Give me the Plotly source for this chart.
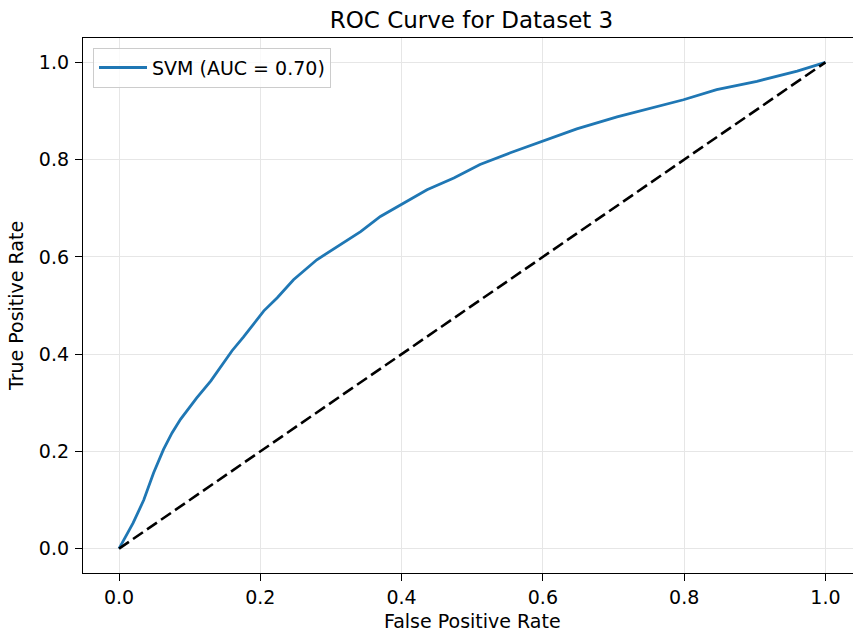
import plotly.graph_objects as go

# ROC curve values
fpr = [0.0, 0.020, 0.035, 0.049, 0.063, 0.075, 0.087, 0.101, 0.110, 0.130, 0.145,
       0.160, 0.176, 0.205, 0.224, 0.247, 0.280, 0.313, 0.342, 0.370, 0.398, 0.436,
       0.474, 0.511, 0.554, 0.601, 0.648, 0.705, 0.752, 0.799, 0.846, 0.903, 0.960, 1.0]
tpr = [0.0, 0.053, 0.100, 0.156, 0.204, 0.238, 0.266, 0.294, 0.310, 0.345, 0.375,
       0.407, 0.435, 0.489, 0.516, 0.553, 0.594, 0.625, 0.652, 0.683, 0.707, 0.738,
       0.762, 0.790, 0.814, 0.838, 0.863, 0.888, 0.906, 0.923, 0.944, 0.961, 0.982, 1.0]
chance_x = [0.0, 1.0]
chance_y = [0.0, 1.0]
tick_vals = [0.0, 0.2, 0.4, 0.6, 0.8, 1.0]
tick_text = ["0.0", "0.2", "0.4", "0.6", "0.8", "1.0"]
model_label = "SVM (AUC = 0.70)"
title_text = "ROC Curve for Dataset 3"
x_label = "False Positive Rate"
y_label = "True Positive Rate"

FONT = "DejaVu Sans"

fig = go.Figure()
fig.add_trace(go.Scatter(x=fpr, y=tpr, mode="lines", name=model_label,
                         line=dict(color="#1f77b4", width=2.8)))
fig.add_trace(go.Scatter(x=chance_x, y=chance_y, mode="lines", showlegend=False,
                         line=dict(color="black", width=2.6, dash="12px,5px")))

axis_common = dict(
    tickvals=tick_vals, ticktext=tick_text, ticks="outside", ticklen=7, tickwidth=1.3,
    tickcolor="black", showline=True, linecolor="black", linewidth=1.3,
    showgrid=True, gridcolor="#e6e6e6", gridwidth=1.4, zeroline=False,
    tickfont=dict(family=FONT, size=19, color="black"),
)

fig.update_layout(
    width=853, height=634,
    margin=dict(l=83, r=0, t=38, b=61),
    paper_bgcolor="white", plot_bgcolor="white",
    font=dict(family=FONT, color="black"),
    title=dict(text=title_text, x=0.5045, xref="paper", xanchor="center",
               y=0.968, yref="container", yanchor="middle",
               font=dict(family=FONT, size=23, color="black")),
    xaxis=dict(range=[-0.051, 1.039], mirror=True, **axis_common),
    yaxis=dict(range=[-0.05, 1.05], mirror=False, ticklabelstandoff=2,
               title=dict(text=y_label, standoff=10, font=dict(family=FONT, size=19, color="black")),
               **axis_common),
    legend=dict(x=0.013, y=0.982, xanchor="left", yanchor="top",
                bgcolor="rgba(255,255,255,0.8)", bordercolor="#cccccc", borderwidth=1,
                font=dict(family=FONT, size=19, color="black"), itemwidth=48),
    showlegend=True,
    annotations=[dict(text=x_label, x=(472 - 83) / 770, xref="paper", y=-(621 - 573) / 535,
                      yref="paper", xanchor="center", yanchor="middle", showarrow=False,
                      font=dict(family=FONT, size=19, color="black"))],
)

fig.write_html("out.html")
